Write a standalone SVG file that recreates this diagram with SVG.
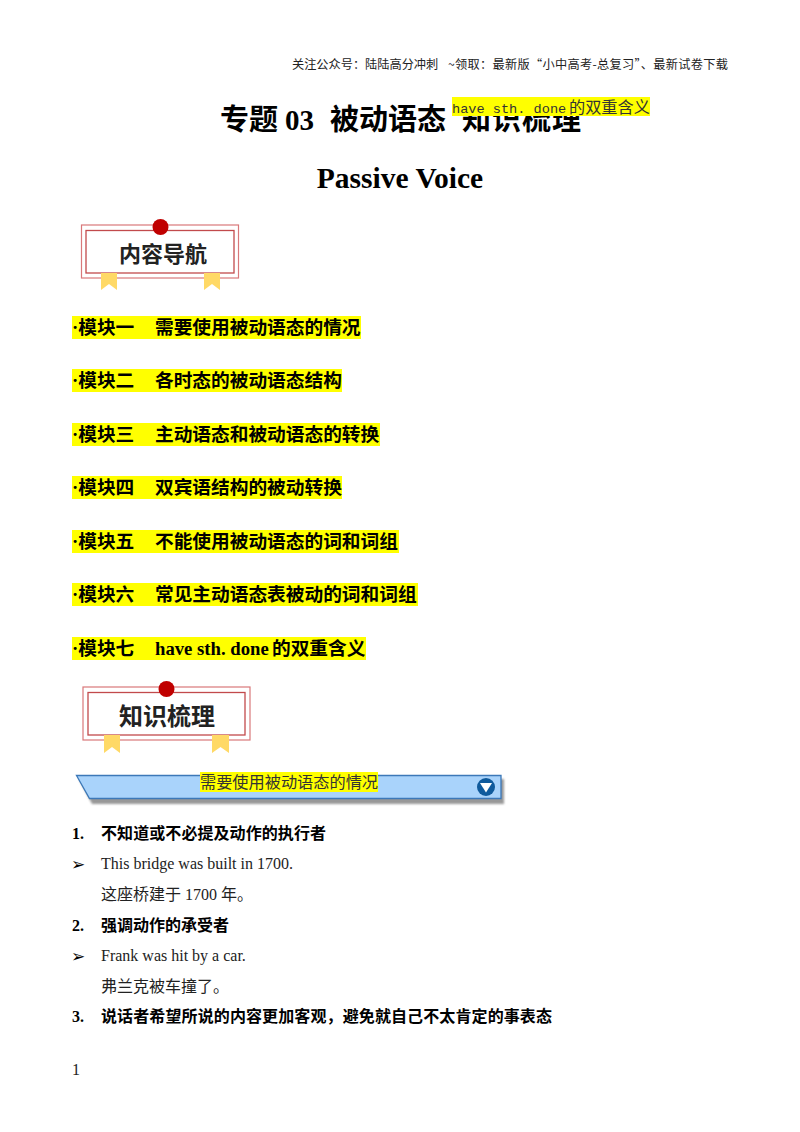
<svg xmlns="http://www.w3.org/2000/svg" width="800" height="1132" viewBox="0 0 800 1132">
<style>
text{font-family:"Liberation Serif","Noto Sans CJK SC",serif;fill:#000}
.hdr{font-size:12.2px;fill:#222;font-family:"Noto Sans CJK SC",sans-serif}
.t{font-size:29px;font-weight:700}
.mod{font-size:18.7px;font-weight:700}
.hl{fill:#ffff00}
.body{font-size:16px;fill:#222}
.bold{font-size:16px;font-weight:700}
.arr{font-size:17px;font-family:"DejaVu Sans",sans-serif}
.mono{font-size:13.6px;font-family:"Liberation Mono",monospace;fill:#333}
.soft{fill:#333}
.lab{font-weight:700;font-family:"Noto Sans CJK SC",sans-serif;fill:#222}
.o1{fill:none;stroke:#d9787a;stroke-width:1.2}
.o2{fill:none;stroke:#c24a4c;stroke-width:1.3}
.rib{fill:#ffd966}
.dot{fill:#c00000}
</style>
<defs>
<filter id="sh" x="-5%" y="-30%" width="110%" height="170%"><feGaussianBlur stdDeviation="1.2"/></filter>
</defs>
<text class="hdr" x="292" y="69">关注公众号：陆陆高分冲刺</text>
<text class="hdr" x="448" y="69" textLength="280" lengthAdjust="spacing">~领取：最新版“小中高考-总复习”、最新试卷下载</text>
<g id="title">
<text class="t" x="220" y="130">专题</text>
<text class="t" x="285" y="130">03</text>
<text class="t" x="330" y="130">被动语态</text>
<text class="t" x="462" y="130" textLength="119">知识梳理</text>
<rect class="hl" x="452" y="97" width="198" height="19"/>
<text class="mono" x="452" y="113">have sth. done</text>
<text class="soft" x="569" y="113" font-size="16.2">的双重含义</text>
<text x="400" y="188" text-anchor="middle" font-size="29.5" font-weight="700">Passive Voice</text>
</g>
<g id="nav-badge">
<rect class="o1" x="81.500" y="225" width="157" height="53"/>
<rect class="o2" x="86" y="230.500" width="148" height="42.500"/>
<circle class="dot" cx="160.500" cy="227" r="8"/>
<path class="rib" d="M101 273H117V290L109 284L101 290Z"/>
<path class="rib" d="M204 273H220V290L212 284L204 290Z"/>
<text class="lab" x="119" y="262" font-size="22">内容导航</text>
</g>
<g id="modules">
<rect class="hl" x="72" y="316" width="289" height="23"/>
<text class="mod" x="72" y="334">·模块一</text><text class="mod" x="155" y="334">需要使用被动语态的情况</text>
<rect class="hl" x="72" y="369" width="270" height="23"/>
<text class="mod" x="72" y="387">·模块二</text><text class="mod" x="155" y="387">各时态的被动语态结构</text>
<rect class="hl" x="72" y="423" width="308" height="23"/>
<text class="mod" x="72" y="441">·模块三</text><text class="mod" x="155" y="441">主动语态和被动语态的转换</text>
<rect class="hl" x="72" y="476" width="270" height="23"/>
<text class="mod" x="72" y="494">·模块四</text><text class="mod" x="155" y="494">双宾语结构的被动转换</text>
<rect class="hl" x="72" y="530" width="327" height="23"/>
<text class="mod" x="72" y="548">·模块五</text><text class="mod" x="155" y="548">不能使用被动语态的词和词组</text>
<rect class="hl" x="72" y="583" width="346" height="23"/>
<text class="mod" x="72" y="601">·模块六</text><text class="mod" x="155" y="601">常见主动语态表被动的词和词组</text>
<rect class="hl" x="72" y="637" width="294" height="23"/>
<text class="mod" x="72" y="655">·模块七</text><text class="mod" x="155" y="655">have sth. done</text><text class="mod" x="272" y="655">的双重含义</text>
</g>
<g id="know-badge">
<rect class="o1" x="83" y="687" width="167" height="53"/>
<rect class="o2" x="88" y="692.500" width="157" height="42.500"/>
<circle class="dot" cx="166.500" cy="689" r="8"/>
<path class="rib" d="M104 735H120V753L112 747L104 753Z"/>
<path class="rib" d="M212 735H229V753L220.500 747L212 753Z"/>
<text class="lab" x="119" y="725" font-size="24">知识梳理</text>
</g>
<g id="section-bar">
<path d="M79 779H504V804H92Z" fill="#555" opacity=".6" filter="url(#sh)"/>
<path d="M76.500 775.500H501V798.500H89.500Z" fill="#a9d3fb" stroke="#3c78b8" stroke-width="1.300"/>
<circle cx="486" cy="787" r="9" fill="#0f5a9c"/>
<path d="M480 783H492L486 792.500Z" fill="#fff"/>
<rect class="hl" x="200" y="772" width="178" height="20"/>
<text class="soft" x="200" y="788" font-size="16.200">需要使用被动语态的情况</text>
</g>
<g id="content">
<text class="bold" x="72" y="839">1.</text><text class="bold" x="101" y="839" textLength="225">不知道或不必提及动作的执行者</text>
<text class="arr" x="71" y="870">➢</text><text class="body" x="101" y="869">This bridge was built in 1700.</text>
<text class="body" x="101" y="900">这座桥建于 1700 年。</text>
<text class="bold" x="72" y="931">2.</text><text class="bold" x="101" y="931">强调动作的承受者</text>
<text class="arr" x="71" y="962">➢</text><text class="body" x="101" y="961">Frank was hit by a car.</text>
<text class="body" x="101" y="992">弗兰克被车撞了。</text>
<text class="bold" x="72" y="1022">3.</text><text class="bold" x="101" y="1022" textLength="451">说话者希望所说的内容更加客观，避免就自己不太肯定的事表态</text>
<text class="body" x="72" y="1075">1</text>
</g>
</svg>
